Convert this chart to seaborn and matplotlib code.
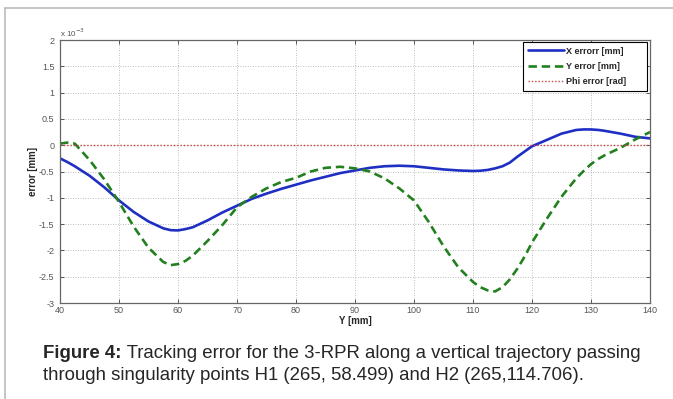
import matplotlib
matplotlib.use("Agg")
import matplotlib.pyplot as plt
from matplotlib.lines import Line2D
import pandas as pd
import seaborn as sns

# Y position along the trajectory [mm]
y_pos = [40, 41.25, 42.5, 45, 47.5, 50, 52.5, 55, 57.5, 58.75, 60, 61.25, 62.5,
         65, 67.5, 70, 72.5, 75, 77.5, 80, 82.5, 85, 87.5, 90, 92.5, 95, 97.5,
         100, 102.5, 105, 107.5, 110, 111.25, 112.5, 113.75, 115, 116.25,
         117.5, 118.75, 120, 122.5, 125, 127.5, 128.75, 130, 131.25, 132.5,
         135, 137.5, 140]

# errors in units of 1e-3
x_error = [-0.25, -0.32, -0.40, -0.58, -0.80, -1.05, -1.27, -1.45, -1.58, -1.615,
           -1.62, -1.595, -1.56, -1.43, -1.28, -1.15, -1.02, -0.92, -0.83, -0.75,
           -0.67, -0.60, -0.53, -0.48, -0.43, -0.40, -0.39, -0.40, -0.43, -0.46,
           -0.48, -0.49, -0.485, -0.47, -0.44, -0.40, -0.33, -0.22, -0.12, -0.02,
           0.10, 0.22, 0.29, 0.30, 0.30, 0.29, 0.27, 0.22, 0.16, 0.13]
y_error = [0.03, 0.05, 0.03, -0.28, -0.65, -1.08, -1.55, -1.95, -2.22, -2.28,
           -2.26, -2.20, -2.10, -1.82, -1.52, -1.18, -0.98, -0.82, -0.70, -0.62,
           -0.50, -0.43, -0.41, -0.44, -0.50, -0.63, -0.82, -1.05, -1.46, -1.92,
           -2.32, -2.60, -2.70, -2.76, -2.78, -2.70, -2.55, -2.35, -2.12, -1.85,
           -1.40, -0.98, -0.63, -0.49, -0.36, -0.26, -0.18, -0.05, 0.11, 0.25]
phi_error = [0.0] * len(y_pos)

x_ticks = [40, 50, 60, 70, 80, 90, 100, 110, 120, 130, 140]
y_ticks = [-3, -2.5, -2, -1.5, -1, -0.5, 0, 0.5, 1, 1.5, 2]

caption_bold = "Figure 4:"
caption_line1 = " Tracking error for the 3-RPR along a vertical trajectory passing"
caption_line2 = "through singularity points H1 (265, 58.499) and H2 (265,114.706)."

sns.set_style("ticks")
plt.rcParams["font.family"] = ["Liberation Sans", "DejaVu Sans"]
plt.rcParams["axes.unicode_minus"] = False

df = pd.DataFrame({"Y": y_pos, "X errorr [mm]": x_error,
                   "Y error [mm]": y_error, "Phi error [rad]": phi_error})

fig = plt.figure(figsize=(6.73, 3.99), dpi=100)
ax = fig.add_axes([0.0892, 0.2406, 0.8766, 0.6591])

line_kw = dict(solid_joinstyle="round", dash_joinstyle="round")
sns.lineplot(data=df, x="Y", y="X errorr [mm]", ax=ax, color="#1f2fc4",
             linewidth=1.9, label="X errorr [mm]", **line_kw)
sns.lineplot(data=df, x="Y", y="Y error [mm]", ax=ax, color="#23801f",
             linewidth=1.9, linestyle=(0, (3.2, 1.8)), label="Y error [mm]",
             **line_kw)
sns.lineplot(data=df, x="Y", y="Phi error [rad]", ax=ax, color="#cc4444",
             linewidth=1.0, linestyle=(0, (1, 1.4)), label="Phi error [rad]")

ax.set_xlim(40, 140)
ax.set_ylim(-3, 2)
ax.set_xticks(x_ticks)
ax.set_xticklabels([str(t) for t in x_ticks])
ax.set_yticks(y_ticks)
ax.set_yticklabels([f"{t:g}" for t in y_ticks])
ax.tick_params(direction="in", length=3, width=0.7, colors="#555555",
               labelsize=6.5, labelcolor="#555555", top=True, right=True)
ax.tick_params(axis="y", pad=4)
ax.tick_params(axis="x", pad=2)
ax.grid(True, color="#a8a8a8", linestyle=(0, (1, 2)), linewidth=0.6)
for s in ax.spines.values():
    s.set_color("#666666")
    s.set_linewidth(0.9)

ax.set_xlabel("Y [mm]", fontsize=7, fontweight="bold", labelpad=1)
ax.set_ylabel("error [mm]", fontsize=7, fontweight="bold", labelpad=1)
ax.text(0.0, 1.005, "x 10$^{-3}$", transform=ax.transAxes, fontsize=5.8,
        color="#555555", ha="left", va="bottom")

# matlab-style legend box: wider than its contents, text left aligned
leg = ax.legend(loc="upper left", bbox_to_anchor=(0.785, 0.5, 0.21, 0.492),
                mode="expand", frameon=True, fancybox=False,
                framealpha=1, edgecolor="black", borderpad=0.5,
                handlelength=4.0, handletextpad=0.2, labelspacing=0.7,
                borderaxespad=0, prop={"weight": "bold", "size": 6.5})
leg.get_frame().set_linewidth(0.8)

# caption below the chart
t1 = fig.text(43 / 673, 1 - 358 / 399, caption_bold, fontsize=13.4,
              fontweight="bold", ha="left", va="baseline")
ax.annotate(caption_line1, xy=(1, 0), xycoords=t1, fontsize=13.4,
            ha="left", va="bottom", annotation_clip=False)
fig.text(43 / 673, 1 - 380 / 399, caption_line2, fontsize=13.4,
         ha="left", va="baseline")

# page frame
fig.add_artist(Line2D([5 / 673, 1], [1 - 8 / 399, 1 - 8 / 399],
                      transform=fig.transFigure, color="#bbbbbb", linewidth=1.2))
fig.add_artist(Line2D([5 / 673, 5 / 673], [0, 1 - 8 / 399],
                      transform=fig.transFigure, color="#bbbbbb", linewidth=1.2))

fig.savefig("out.png", dpi=100)
